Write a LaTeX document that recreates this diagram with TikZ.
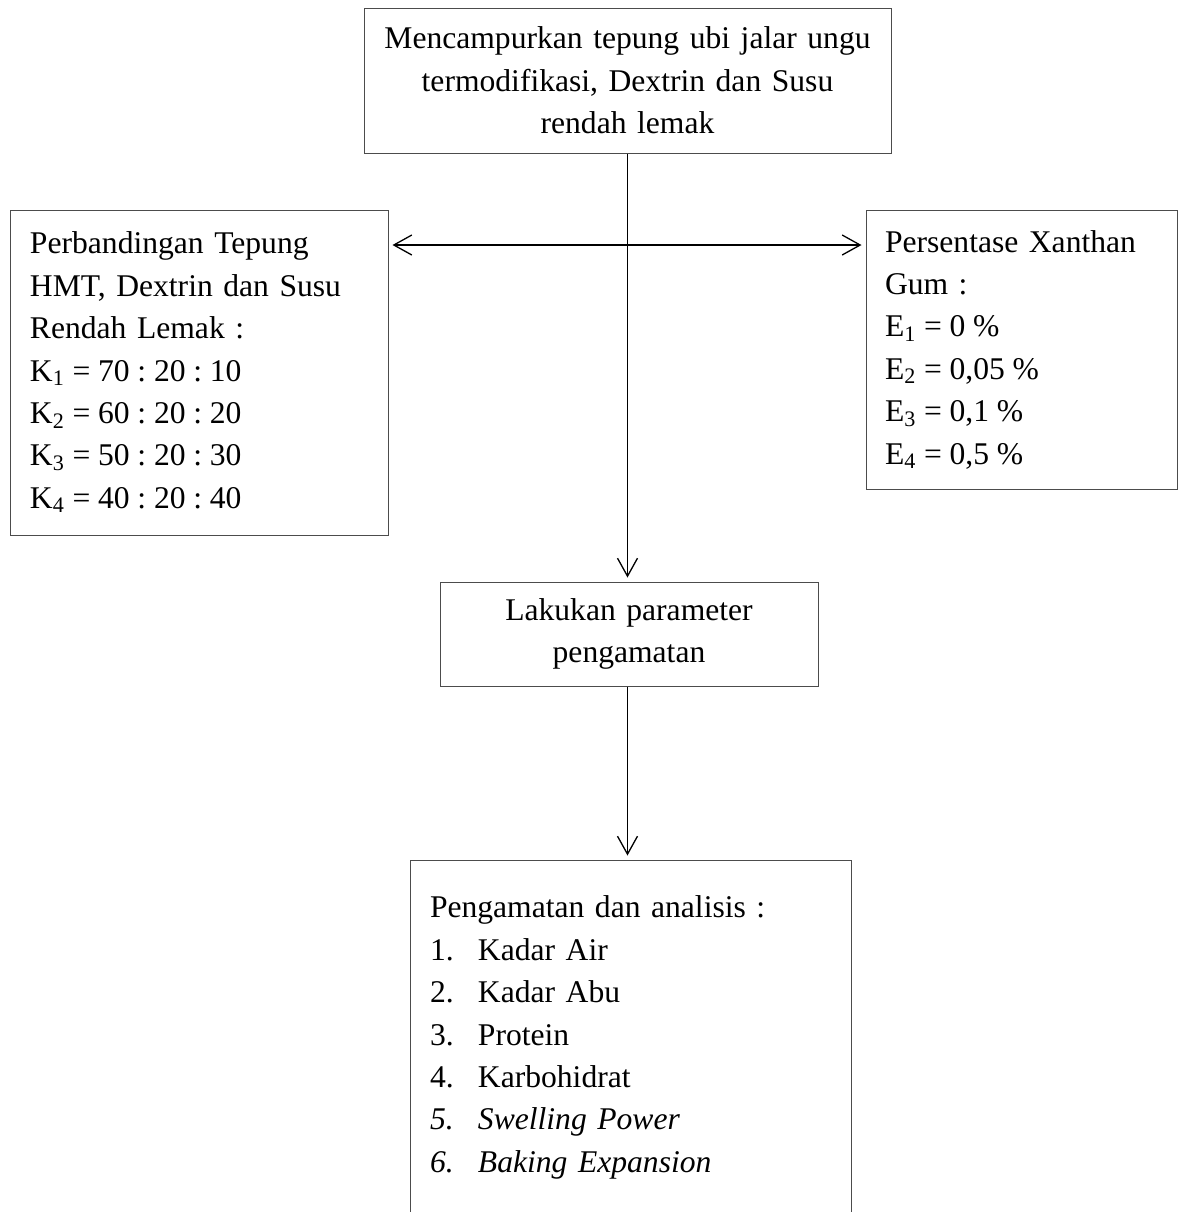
\documentclass[tikz,border=0pt]{standalone}
\usepackage{fontspec}
\setmainfont{Liberation Serif}
\usetikzlibrary{arrows.meta,calc}
\newcommand{\tightsp}{\spaceskip=0.245em plus 0.05em\relax}
\begin{document}
\frenchspacing
\begin{tikzpicture}[x=0.5pt,y=-0.5pt,
  box/.style={draw=black!70, line width=0.5pt, inner xsep=0pt, inner ysep=0pt,
    font=\fontsize{15.8}{21.2}\selectfont\frenchspacing},
  conn/.style={line width=0.65pt, shorten >=2pt,
    -{Straight Barb[length=9pt,width=10pt,line width=0.65pt]}}
]
\clip (0,0) rectangle (1181,1212);
\fill[white] (0,0) rectangle (1181,1212);

\node[box, minimum width=263.5pt, minimum height=72.5pt, text width=262pt, align=center]
  (mix) at (627.5,80.5)
  {Mencampurkan tepung ubi jalar ungu\\termodifikasi, Dextrin dan Susu\\rendah lemak};

\node[box, minimum width=189pt, minimum height=162.5pt, inner xsep=10pt, text width=169pt, align=left]
  (left) at (199,372.5)
  {Perbandingan Tepung\\HMT, Dextrin dan Susu\\Rendah Lemak :\\
   {\tightsp K\textsubscript{1} = 70 : 20 : 10}\\
   {\tightsp K\textsubscript{2} = 60 : 20 : 20}\\
   {\tightsp K\textsubscript{3} = 50 : 20 : 30}\\
   {\tightsp K\textsubscript{4} = 40 : 20 : 40}};

\node[box, minimum width=155.5pt, minimum height=139.5pt, inner xsep=9.5pt, text width=136.5pt, align=left]
  (right) at (1021.5,349.5)
  {Persentase Xanthan\\Gum :\\
   {\tightsp E\textsubscript{1} = 0 \%}\\
   {\tightsp E\textsubscript{2} = 0,05 \%}\\
   {\tightsp E\textsubscript{3} = 0,1 \%}\\
   {\tightsp E\textsubscript{4} = 0,5 \%}};

\node[box, minimum width=189pt, minimum height=52pt, text width=187pt, align=center]
  (obs) at (629,634)
  {Lakukan parameter\\pengamatan};

\node[box, minimum width=220.5pt, minimum height=177.5pt, inner xsep=10pt, text width=200.5pt, align=left]
  (res) at (630.5,1037.5)
  {Pengamatan dan analisis :\\
   \makebox[24pt][l]{1.}Kadar Air\\
   \makebox[24pt][l]{2.}Kadar Abu\\
   \makebox[24pt][l]{3.}Protein\\
   \makebox[24pt][l]{4.}Karbohidrat\\
   \textit{\makebox[24pt][l]{5.}Swelling Power}\\
   \textit{\makebox[24pt][l]{6.}Baking Expansion}};

\coordinate (hy) at (0,245);
\coordinate (j) at (mix.south |- hy);

\draw[conn] (mix.south) -- (mix.south |- obs.north);
\draw[conn] (j) -- (j -| left.east);
\draw[conn] (j) -- (j -| right.west);
\draw[conn] (obs.south -| mix.south) -- (mix.south |- res.north);
\end{tikzpicture}
\end{document}
